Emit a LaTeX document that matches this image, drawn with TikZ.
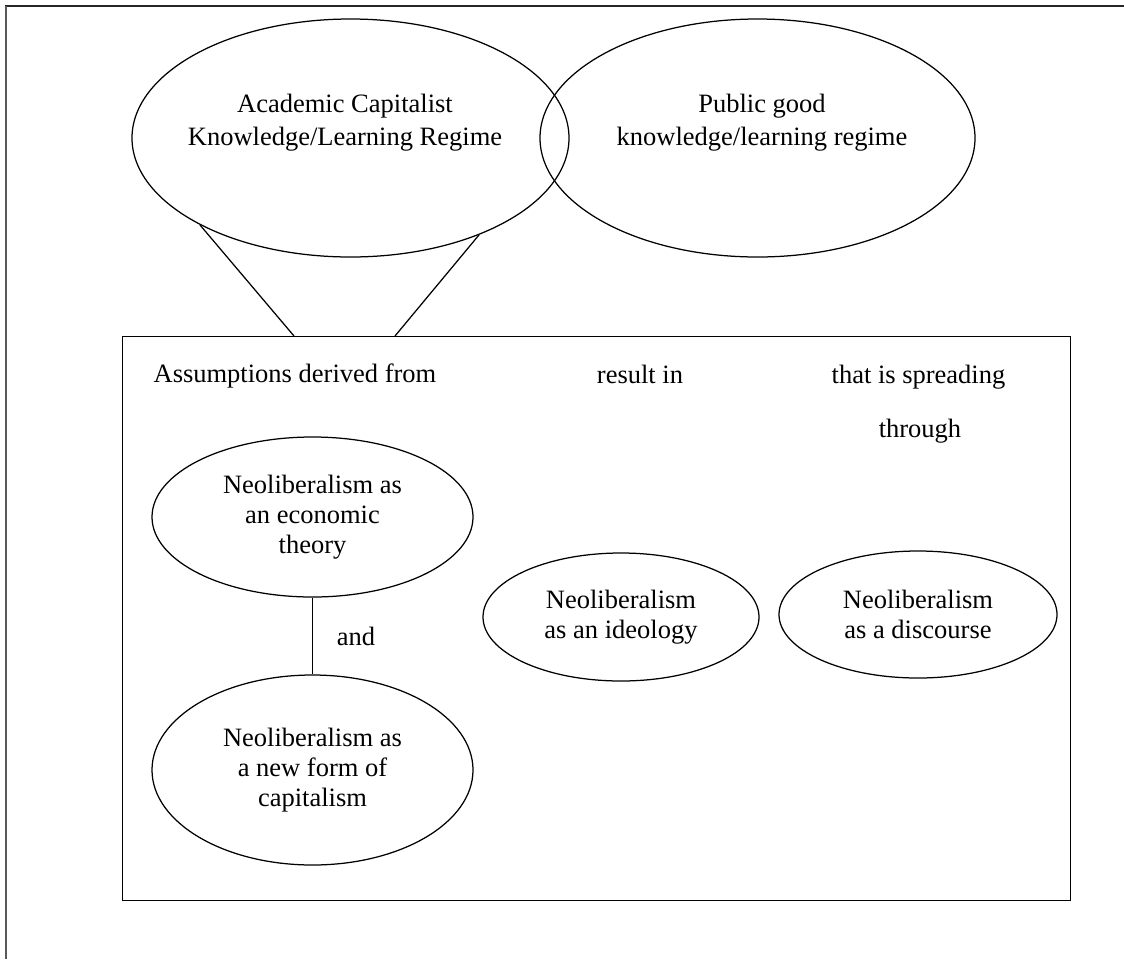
\documentclass[tikz,border=0pt]{standalone}
\usepackage{fontspec}
\setmainfont{Liberation Serif}
\usetikzlibrary{shapes.geometric}
\begin{document}
\begin{tikzpicture}[x=1pt,y=-1pt, line width=1.25pt,
  ell/.style={draw, ellipse, inner sep=0pt, align=center, font=\fontsize{26.5}{30}\selectfont},
  lbl/.style={inner sep=0pt, font=\fontsize{26.5}{30}\selectfont},
  toptxt/.style={inner sep=0pt, align=center, font=\fontsize{26.5}{33}\selectfont}]
\useasboundingbox (0,0) rectangle (1124,959);
% outer frame (top and left only)
\draw[line width=1.8pt, black!85] (5,6) -- (1124,6);
\draw[line width=2pt, black!65] (6,6) -- (6,959);
% inner box
\node[draw, rectangle, minimum width=948pt, minimum height=564pt, anchor=north west, inner sep=0pt] (box) at (122,336) {};
% top ellipses
\node[ell, minimum width=437pt, minimum height=238pt] (acr) at (350.5,138) {};
\node[toptxt] (acrt) at (345,123) {Academic Capitalist\\Knowledge/Learning Regime};
\node[ell, minimum width=435pt, minimum height=238pt] (pgr) at (757.5,138) {};
\node[toptxt] (pgrt) at (762,123) {Public good\\knowledge/learning regime};
% lower ellipses
\node[ell, minimum width=321pt, minimum height=160pt] (econ) at (312.5,517) {Neoliberalism as\\an economic\\theory};
\node[ell, minimum width=321pt, minimum height=190pt] (cap) at (312.5,770) {Neoliberalism as\\a new form of\\capitalism};
\node[ell, minimum width=276pt, minimum height=128pt] (ideo) at (621,617) {Neoliberalism\\as an ideology};
\node[ell, minimum width=278pt, minimum height=127pt] (disc) at (918,614.5) {Neoliberalism\\as a discourse};
% labels
\node[lbl, anchor=base west] (assum) at (153,382) {Assumptions derived from};
\node[lbl, anchor=base] (res) at (640,383) {result in};
\node[lbl, anchor=base west] (spread) at (831,383) {that is spreading};
\node[lbl, anchor=base] (thr) at (920,437) {through};
\node[lbl, anchor=base] (andl) at (356,645) {and};
% connectors
\draw (acr.210.8) -- ([xshift=172pt]box.north west);
\draw (acr.323.7) -- ([xshift=273pt]box.north west);
\draw (econ.south) -- (cap.north);
\end{tikzpicture}
\end{document}
